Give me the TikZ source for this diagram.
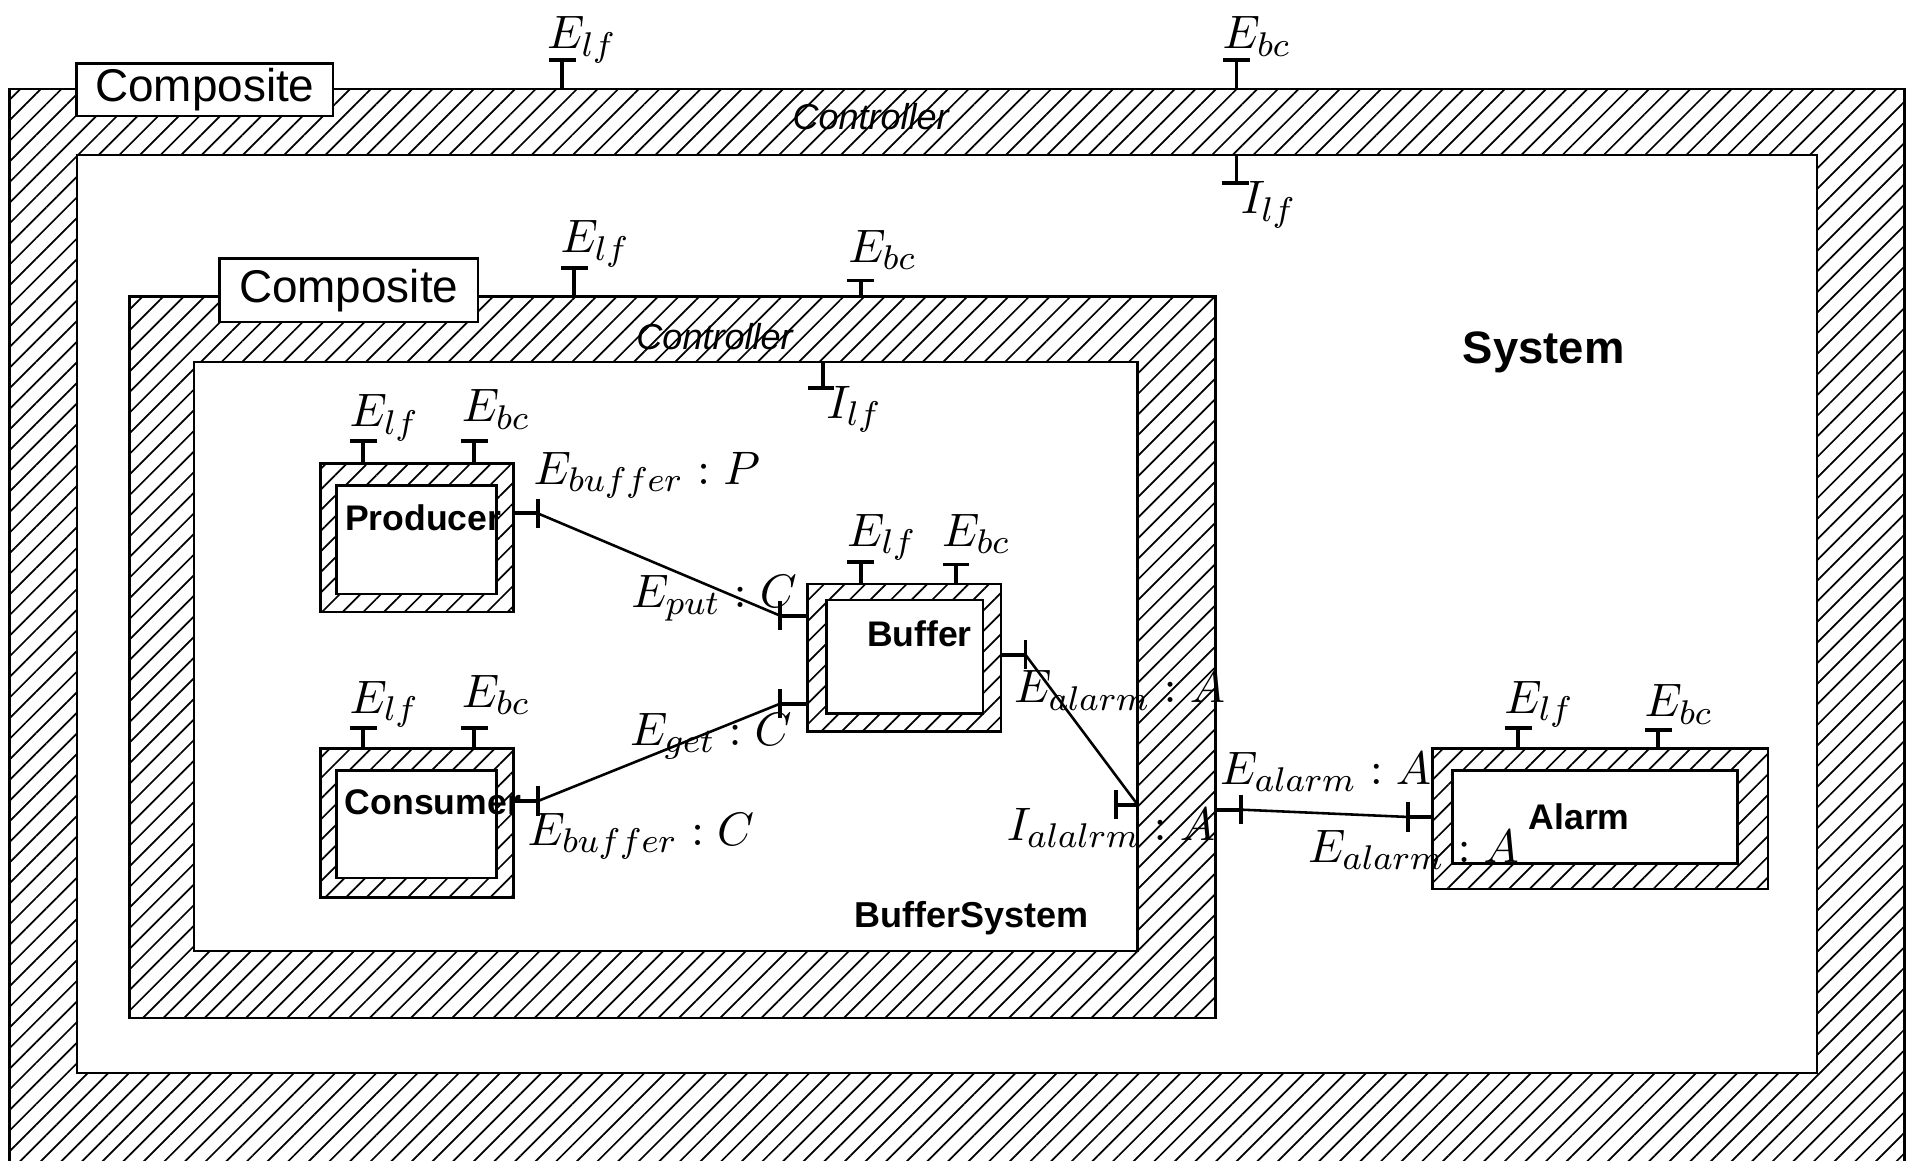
\documentclass[tikz,border=0pt]{standalone}
\usepackage{fontspec}
\setsansfont{Liberation Sans}
\usetikzlibrary{patterns.meta,calc}
\def\hatchbox(#1,#2)(#3,#4)(#5,#6)(#7,#8){\draw[boxline, hatch] (#1,#2) rectangle (#3,#4); \draw[boxline, fill=white] (#5,#6) rectangle (#7,#8);}
\def\porttop[#1](#2,#3,#4){\coordinate (#1) at (#2,#4); \draw[portline] (#2,#3) -- (#1); \draw[portline] ($(#1)+(-11,0)$) -- ($(#1)+(11,0)$);}
\def\portside[#1](#2,#3,#4){\coordinate (#1) at (#4,#3); \draw[portline] (#2,#3) -- (#1); \draw[portline] ($(#1)+(0,-12)$) -- ($(#1)+(0,12)$);}
\tikzset{
	boxline/.style={line width=0.6pt},
	hatch/.style={pattern={Lines[angle=45, distance=3.4pt, line width=0.4pt]}},
	portline/.style={line width=0.9pt},
	wire/.style={line width=0.6pt},
	lbl/.style={inner sep=0pt, anchor=base west, font=\fontsize{11}{13}\selectfont},
	tagbox/.style={draw, line width=0.6pt, fill=white, inner sep=0pt, font=\sffamily\fontsize{10.7}{12}\selectfont},
	ctrl/.style={font=\sffamily\itshape\fontsize{8.4}{10}\selectfont},
	cname/.style={font=\sffamily\bfseries\fontsize{8.3}{10}\selectfont}
}

\begin{document}
\begin{tikzpicture}[x=0.01cm, y=-0.01cm]
		%%%%% START %%%%%
		\clip (0,0) rectangle (1568,952);
		
		% System
		\hatchbox(8,73)(1562,990)(63,127)(1490,880)
		\node[tagbox, minimum width=2.1cm, minimum height=0.43cm] (sysTag) at (168,73.5) {Composite};
		\node[ctrl] (sysCtrl) at (714,96) {Controller};
		\node[font=\sffamily\bfseries\fontsize{10.6}{12}\selectfont] (sysName) at (1266,289) {System};
		\porttop[sysLf](461,73,49)
		\porttop[sysBc](1014,73,49)
		\draw[portline] (1014,127) -- (1014,150); \draw[portline] (1002,150) -- (1024,150);
		\node[lbl] (sysLfL) at (448,40) {$E_{lf}$};
		\node[lbl] (sysBcL) at (1002,40) {$E_{bc}$};
		\node[lbl] (sysIlfL) at (1017,175) {$I_{lf}$};
		
		% BufferSystem
		\hatchbox(106,243)(997,835)(159,297)(933,780)
		\node[tagbox, minimum width=2.12cm, minimum height=0.52cm] (bsTag) at (286,238) {Composite};
		\node[ctrl] (bsCtrl) at (586,276) {Controller};
		\node[cname, font=\sffamily\bfseries\fontsize{8.4}{10}\selectfont] (bsName) at (797,753) {BufferSystem};
		\porttop[bsLf](471,243,220)
		\porttop[bsBc](706,243,230)
		\draw[portline] (675,297) -- (675,318); \draw[portline] (663,318) -- (684,318);
		\node[lbl] (bsLfL) at (459,207) {$E_{lf}$};
		\node[lbl] (bsBcL) at (695,215) {$E_{bc}$};
		\node[lbl] (bsIlfL) at (677,343) {$I_{lf}$};
		
		% Producer
		\hatchbox(263,380)(421,502)(276,398)(407,487)
		\node[cname] (prod) at (347,425) {Producer};
		\porttop[prodLf](298,380,362)
		\porttop[prodBc](389,380,362)
		\portside[prodBuf](421,421,441)
		\node[lbl] (prodLfL) at (286,350) {$E_{lf}$};
		\node[lbl] (prodBcL) at (378,346) {$E_{bc}$};
		\node[lbl] (prodBufL) at (437,397) {$E_{buffer} : P$};
		
		% Consumer
		\hatchbox(263,614)(421,736)(276,632)(407,720)
		\node[cname] (cons) at (355,658) {Consumer};
		\porttop[consLf](298,614,597)
		\porttop[consBc](389,614,597)
		\portside[consBuf](421,657,441)
		\node[lbl] (consLfL) at (286,585) {$E_{lf}$};
		\node[lbl] (consBcL) at (378,580) {$E_{bc}$};
		\node[lbl] (consBufL) at (432,693) {$E_{buffer} : C$};
		
		% Buffer
		\hatchbox(662,479)(821,600)(678,492)(806,585)
		\node[cname] (buf) at (754,520) {Buffer};
		\porttop[bufLf](706,479,461)
		\porttop[bufBc](784,479,463)
		\portside[bufPut](662,505,640)
		\portside[bufGet](662,577,640)
		\portside[bufAlarm](821,537,841)
		\node[lbl] (bufLfL) at (694,448) {$E_{lf}$};
		\node[lbl] (bufBcL) at (772,448) {$E_{bc}$};
		\node[lbl] (bufPutL) at (517,498) {$E_{put} : C$};
		\node[lbl] (bufGetL) at (516,611) {$E_{get} : C$};
		\node[lbl] (bufAlarmL) at (831,576) {$E_{alarm} : A$};
		
		% BufferSystem alarm ports
		\portside[bsAlarmIn](933,660,915)
		\coordinate (bsEdge) at (933,660);
		\portside[bsAlarmOut](997,664,1018)
		\node[lbl] (bsAlarmInL) at (825,689) {$I_{alalrm} : A$};
		\node[lbl] (bsAlarmOutL) at (1000,643) {$E_{alarm} : A$};
		
		% Alarm
		\hatchbox(1175,614)(1450,729)(1191,632)(1425,708)
		\node[cname] (alarm) at (1295,670) {Alarm};
		\porttop[alarmLf](1245,614,597)
		\porttop[alarmBc](1360,614,599)
		\portside[alarmIn](1175,670,1155)
		\node[lbl] (alarmLfL) at (1233,585) {$E_{lf}$};
		\node[lbl] (alarmBcL) at (1348,588) {$E_{bc}$};
		\node[lbl] (alarmInL) at (1072,707) {$E_{alarm} : A$};
		
		% wires
		\draw[wire] (prodBuf) -- (bufPut);
		\draw[wire] (consBuf) -- (bufGet);
		\draw[wire] (bufAlarm) -- (bsEdge);
		\draw[wire] (bsAlarmOut) -- (alarmIn);
		
		%%%%% END %%%%%
	\end{tikzpicture}
\end{document}
